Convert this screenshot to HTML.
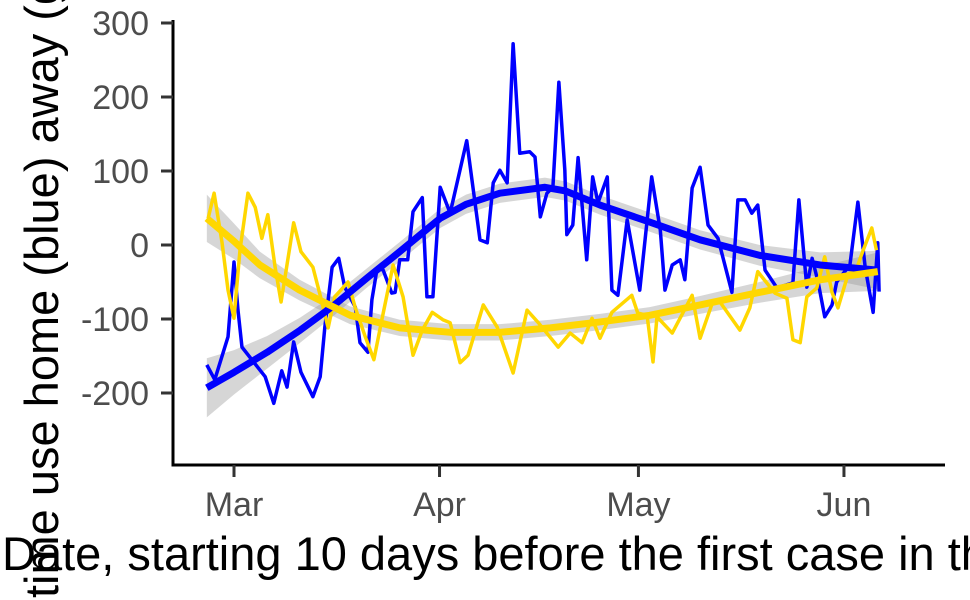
<!DOCTYPE html>
<html><head><meta charset="utf-8"><style>
html,body{margin:0;padding:0;background:#fff;}
svg{display:block;font-family:"Liberation Sans",Arial,sans-serif;}
</style></head><body>
<svg id="chart" width="970" height="600" viewBox="0 0 970 600">
<g id="bands"></g>
<g id="lines"></g>
<g id="axes"></g>
<text x="58" y="598" transform="rotate(-90 58 598)" font-size="47" fill="#000">time use home (blue) away (green)</text>
<text x="2" y="570" font-size="47" fill="#000">Date, starting 10 days before the first case in the country</text>
</svg>
<script>
// days relative to Mar 1
const blueDays=[-4.1,-2.9,-0.9,0,0.6,1.2,4.7,6.0,7.2,8.0,9.0,10.1,11.9,13.0,13.7,14.8,15.8,16.7,18.3,19.0,20.2,20.8,21.6,22.5,23.8,24.3,25.0,26.2,27.0,28.4,29.1,30.0,31.1,32.6,35.1,37.1,38.2,39.1,40.1,41.2,42.1,43.1,44.6,45.4,46.2,47.2,48.1,49.0,49.9,50.2,51.1,51.9,53.2,54.1,54.9,56.3,57.0,57.9,59.3,61.2,63.0,64.3,65.0,66.1,67.3,68.0,69.1,70.3,71.5,73.0,75.1,76.0,77.1,78.1,79.0,80.1,81.9,84.3,85.2,86.4,87.2,88.1,89.1,90.2,90.9,92.9,94.1,95.2,96.4,97.1,97.3];
const blueVals=[-162,-182,-124,-23,-88,-138,-178,-214,-170,-192,-131,-172,-205,-178,-111,-30,-18,-57,-84,-132,-145,-74,-31,-34,-65,-64,-20,-20,45,64,-70,-70,78,43,141,7,3,84,101,84,272,124,126,119,38,70,78,220,101,14,27,118,-20,92,57,92,-61,-68,34,-61,92,20,-61,-27,-20,-47,77,105,27,9,-64,61,61,43,54,-34,-58,-51,61,-57,-18,-50,-97,-81,-50,-27,58,-30,-91,3,-63];
const yellowDays=[-3.9,-3.0,-1.8,-0.9,0,0.9,2.1,3.2,4.2,5.1,6.2,7.1,9.0,10.1,11.9,13.0,14.2,15.2,17.2,18.3,19.8,21.1,22.3,24.0,25.5,27.0,28.4,29.9,31.5,32.6,34.1,35.3,37.6,39.7,42.1,44.2,45.9,48.9,50.7,52.5,54.0,55.2,57.0,60.0,60.9,62.3,63.2,63.8,66.1,69.1,70.3,72.2,73.3,76.3,77.8,79.0,81.6,83.4,84.3,85.4,86.4,87.9,89.1,90.2,91.1,92.5,94.1,94.9,96.2,96.9];
const yellowVals=[36,70,3,-61,-99,-7,70,51,9,41,-30,-77,30,-9,-30,-68,-112,-70,-50,-85,-124,-155,-101,-27,-70,-149,-115,-91,-101,-105,-159,-149,-81,-111,-173,-88,-105,-138,-119,-132,-99,-126,-91,-68,-92,-95,-158,-97,-119,-68,-126,-77,-77,-115,-85,-36,-65,-72,-128,-132,-70,-58,-16,-64,-85,-43,-27,-7,23,-7];
const blueFitDays=[-4.1,0,5,10,15,20,25,31.1,35,40.1,46.9,50,55.2,62.7,70.3,79.3,88.4,97.1];
const blueFitVals=[-193,-172,-145,-115,-82,-45,-9,36,55,70,78,73,54,31,7,-14,-27,-34];
const blueFitSe=[40,30,22,17,14,13,13,13,13,13,13,13,13,13,13,14,17,26];
const yellowFitDays=[-4.1,0,3.9,9.9,17.5,25,32.6,40.1,47.7,55.2,62.7,70.3,79.3,88.4,97.1];
const yellowFitVals=[36,5,-27,-61,-95,-112,-118,-118,-112,-104,-95,-81,-64,-47,-36];
const yellowFitSe=[32,24,18,14,12,11,11,11,11,11,11,12,14,18,26];
const yTicks=[300,200,100,0,-100,-200];
const xTickLabels=["Mar","Apr","May","Jun"];
const xTickDays=[0,31,61,92];

const xs=d=>234+d*6.63;
const ys=v=>245-v*0.74;
const NS="http://www.w3.org/2000/svg";
function mk(tag,parent,attrs){const e=document.createElementNS(NS,tag);for(const k in attrs)e.setAttribute(k,attrs[k]);parent.appendChild(e);return e;}
const bands=document.getElementById('bands'),lines=document.getElementById('lines'),axes=document.getElementById('axes');

function band(days,vals,se,name){
  let up=days.map((d,i)=>xs(d)+','+ys(vals[i]+se[i]));
  let lo=days.map((d,i)=>xs(d)+','+ys(vals[i]-se[i])).reverse();
  const p=mk('polygon',bands,{points:up.concat(lo).join(' '),fill:'#999',opacity:'0.4'});
  
  
}
function line(days,vals,color,w,name){
  const p=mk('polyline',lines,{points:days.map((d,i)=>xs(d)+','+ys(vals[i])).join(' '),fill:'none',stroke:color,'stroke-width':w,'stroke-linejoin':'round'});
  
  
}
line(blueDays,blueVals,'#0000ff',3.5,'home-series-line');
line(yellowDays,yellowVals,'#ffd700',3.5,'away-series-line');
band(blueFitDays,blueFitVals,blueFitSe,'home-confidence-band');
band(yellowFitDays,yellowFitVals,yellowFitSe,'away-confidence-band');
line(blueFitDays,blueFitVals,'#0000ff',7,'home-smooth-line');
line(yellowFitDays,yellowFitVals,'#ffd700',7,'away-smooth-line');

let a=mk('polyline',axes,{points:'173,20 173,465 945,465',fill:'none',stroke:'#000','stroke-width':3});


yTicks.forEach(v=>{
  const t=mk('line',axes,{x1:161,x2:173,y1:ys(v),y2:ys(v),stroke:'#333','stroke-width':3});
  
  
  const l=mk('text',axes,{x:149,y:ys(v)+12,'text-anchor':'end','font-size':34,fill:'#4d4d4d'});
  l.textContent=v;
  
  
});
xTickDays.forEach((d,i)=>{
  const t=mk('line',axes,{x1:xs(d),x2:xs(d),y1:465,y2:477,stroke:'#333','stroke-width':3});
  
  
  const l=mk('text',axes,{x:xs(d),y:516,'text-anchor':'middle','font-size':34,fill:'#4d4d4d'});
  l.textContent=xTickLabels[i];
  
  
});
</script>
</body></html>
